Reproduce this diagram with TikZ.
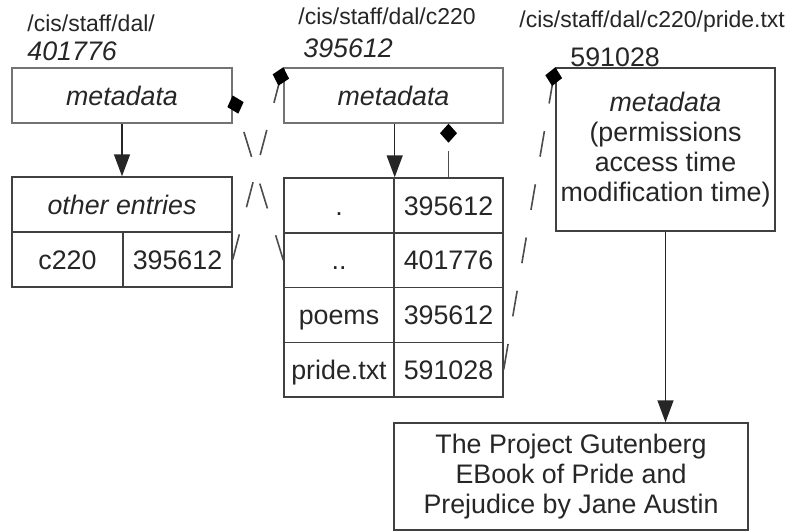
\documentclass[tikz,border=0pt]{standalone}
\usepackage{fontspec}
\setmainfont{Liberation Sans}
\usetikzlibrary{arrows.meta}

\newcommand\cellfont{\fontsize{13.4pt}{15pt}\selectfont}
\newcommand\pathfont{\fontsize{11.5pt}{13pt}\selectfont}

\begin{document}
\begin{tikzpicture}[x=0.5pt,y=-0.5pt,>={Triangle[length=11pt,width=8pt]},
                    font=\cellfont,text=black!85]

  \tikzstyle{meta}=[draw=black!55,line width=0.7pt,inner sep=0pt,minimum height=27.5pt]
  \tikzstyle{tbox}=[draw=black!75,line width=0.7pt,inner sep=0pt,align=center]
  \tikzstyle{cell}=[tbox,minimum height=27.4pt,text height=9.6pt,text depth=0pt]
  \tikzstyle{pathname}=[anchor=base west,inner sep=0pt,font=\pathfont]
  \tikzstyle{inum}=[anchor=base west,inner sep=0pt]
  \tikzstyle{link}=[dash pattern=on 13pt off 14pt,line width=0.8pt,draw=black!70,
                    -{Diamond[length=9.5pt,width=8.5pt,color=black]}]
  \tikzstyle{pointer}=[->,line width=0.7pt,draw=black!85]

  \useasboundingbox (0,0) rectangle (789,531);

  % directory /cis/staff/dal/
  \node[pathname] (p1) at (27,31) {/cis/staff/dal/};
  \node[inum] (n1) at (27,60) {\itshape 401776};
  \node[meta,minimum width=110pt] (meta1) at (122,95.5) {\itshape metadata};
  \node[cell,minimum width=110pt,minimum height=27.5pt] (other) at (122,204.5) {\itshape other entries};
  \node[cell,minimum width=55.5pt,minimum height=27.5pt] (c220) at (67.5,259.5) {c220};
  \node[cell,minimum width=54.5pt,minimum height=27.5pt] (c220num) at (177.5,259.5) {395612};

  % directory /cis/staff/dal/c220
  \node[pathname] (p2) at (298,24) {/cis/staff/dal/c220};
  \node[inum] (n2) at (303,57) {\itshape 395612};
  \node[meta,minimum width=109.5pt] (meta2) at (393.5,95.5) {\itshape metadata};
  \node[cell,minimum width=55pt] (dot) at (339,205.4) {.};
  \node[cell,minimum width=54.5pt] (dotnum) at (448.5,205.4) {395612};
  \node[cell,minimum width=55pt] (dotdot) at (339,260.1) {..};
  \node[cell,minimum width=54.5pt] (dotdotnum) at (448.5,260.1) {401776};
  \node[cell,minimum width=55pt] (poems) at (339,314.9) {poems};
  \node[cell,minimum width=54.5pt] (poemsnum) at (448.5,314.9) {395612};
  \node[cell,minimum width=55pt] (pride) at (339,369.6) {pride.txt};
  \node[cell,minimum width=54.5pt] (pridenum) at (448.5,369.6) {591028};

  % file /cis/staff/dal/c220/pride.txt
  \node[pathname] (p3) at (519,27) {/cis/staff/dal/c220/pride.txt};
  \node[inum] (n3) at (570,66) {591028};
  \node[tbox,minimum width=109.5pt,minimum height=81.5pt] (meta3) at (665.5,149.5)
       {\itshape metadata\\(permissions\\access time\\modification time)};
  \node[tbox,minimum width=177pt,minimum height=53.5pt] (book) at (571,476.5)
       {The Project Gutenberg\\EBook of Pride and\\Prejudice by Jane Austin};

  \draw[pointer] (meta1.south) -- (other.north);
  \draw[pointer] (meta2.south -| dot.east) -- (dot.north east);
  \draw[pointer] (meta3.south) -- (meta3.south |- book.north);

  \draw[link] (c220num.east) -- (meta2.north west);
  \draw[link] (dotdot.west) -- (meta1.east);
  \draw[link] (pridenum.east) -- (meta3.north west);
  \draw[link] (dotnum.north) -- (dotnum.north |- meta2.south);
\end{tikzpicture}
\end{document}
